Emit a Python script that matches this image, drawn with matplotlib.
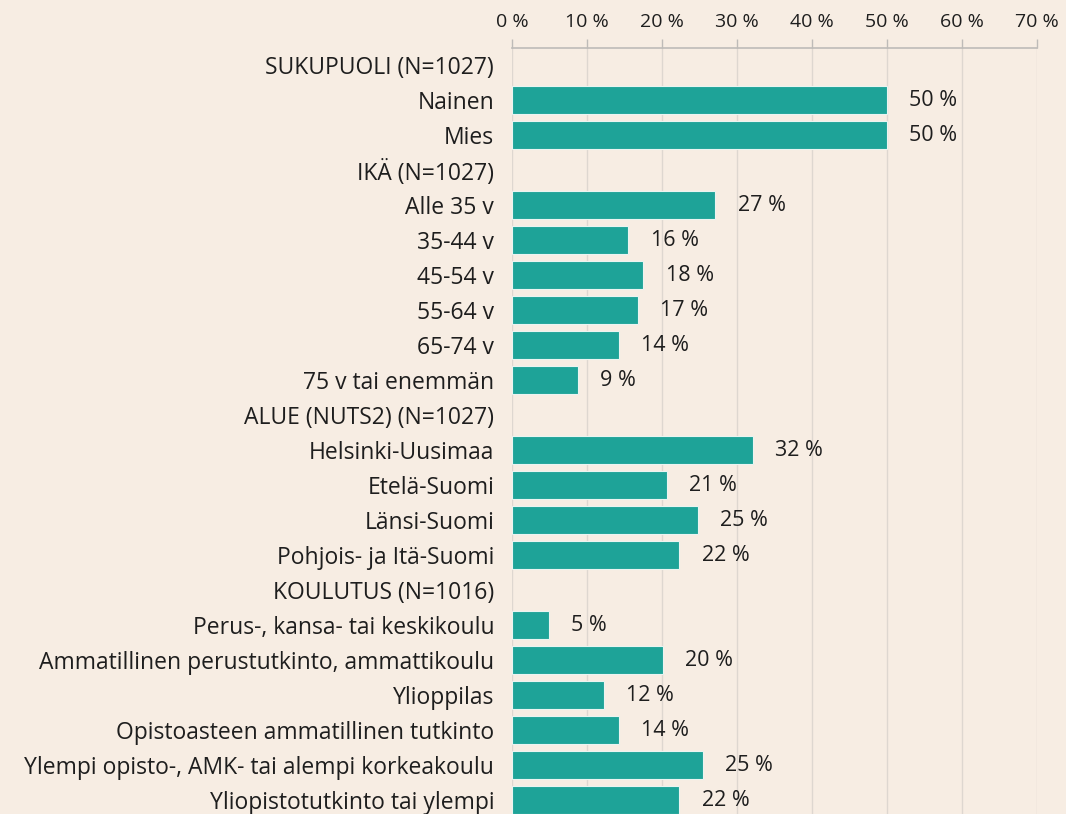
import matplotlib
matplotlib.use('Agg')
import matplotlib.pyplot as plt
import numpy as np

# ── Data ───────────────────────────────────────────────────────────
CATEGORIES = [
    'SUKUPUOLI (N=1027)',
    'Nainen',
    'Mies',
    'IKÄ (N=1027)',
    'Alle 35 v',
    '35-44 v',
    '45-54 v',
    '55-64 v',
    '65-74 v',
    '75 v tai enemmän',
    'ALUE (NUTS2) (N=1027)',
    'Helsinki-Uusimaa',
    'Etelä-Suomi',
    'Länsi-Suomi',
    'Pohjois- ja Itä-Suomi',
    'KOULUTUS (N=1016)',
    'Perus-, kansa- tai keskikoulu',
    'Ammatillinen perustutkinto, ammattikoulu',
    'Ylioppilas',
    'Opistoasteen ammatillinen tutkinto',
    'Ylempi opisto-, AMK- tai alempi korkeakoulu',
    'Yliopistotutkinto tai ylempi',
]
# None = group header row (no bar)
VALUES = [
    None, 50.0, 50.0,
    None, 27.1, 15.5, 17.5, 16.8, 14.2, 8.7,
    None, 32.1, 20.6, 24.8, 22.3,
    None, 4.9, 20.1, 12.2, 14.2, 25.4, 22.3,
]
X_TICKS = [0, 10, 20, 30, 40, 50, 60, 70]

# ── Style ──────────────────────────────────────────────────────────
BG       = '#F7EDE3'
COL_BAR  = '#1EA398'
COL_EDGE = '#EAF4F1'
COL_GRID = '#DED7D0'
COL_AXIS = '#BEBBB8'
COL_TEXT = '#1E1E1E'
FONT     = ['Open Sans', 'DejaVu Sans']
FS_CAT   = 16.5
FS_VAL   = 15.5
FS_TICK  = 14

plt.rcParams['font.family'] = FONT

fig = plt.figure(figsize=(10.66, 8.14), dpi=100, facecolor=BG)
ax = fig.add_axes([512.3 / 1066, 0.0, (1037 - 512.3) / 1066, 1 - 48.3 / 814])
ax.set_facecolor(BG)

y_pos = np.arange(len(CATEGORIES))
bar_vals = [v if v is not None else 0 for v in VALUES]
bars = ax.barh(y_pos, bar_vals, height=0.78, color=COL_BAR,
               edgecolor=COL_EDGE, linewidth=0.8, zorder=3)

for bar, v in zip(bars, VALUES):
    if v is None:
        bar.set_visible(False)
        continue
    ax.annotate(f'{v:.0f} %', xy=(bar.get_width(), bar.get_y() + bar.get_height() / 2),
                xytext=(16, 0), textcoords='offset points',
                va='center', ha='left', fontsize=FS_VAL, color=COL_TEXT)

# ── Axes ───────────────────────────────────────────────────────────
ax.set_xlim(0, 70)
ax.set_ylim(21.4, -0.48)
ax.set_yticks(y_pos)
ax.set_yticklabels(CATEGORIES, fontsize=FS_CAT, color=COL_TEXT)
ax.tick_params(axis='y', length=0, pad=13)

ax.xaxis.tick_top()
ax.set_xticks(X_TICKS)
ax.set_xticklabels([f'{t} %' for t in X_TICKS], fontsize=FS_TICK, color=COL_TEXT)
ax.tick_params(axis='x', length=6.5, width=1, color=COL_AXIS, pad=6)

ax.grid(axis='x', color=COL_GRID, linewidth=1)
ax.set_axisbelow(True)

for name, spine in ax.spines.items():
    spine.set_visible(name == 'top')
ax.spines['top'].set_color(COL_AXIS)
ax.spines['top'].set_linewidth(1.2)

fig.savefig('out.png', dpi=100, facecolor=BG)
